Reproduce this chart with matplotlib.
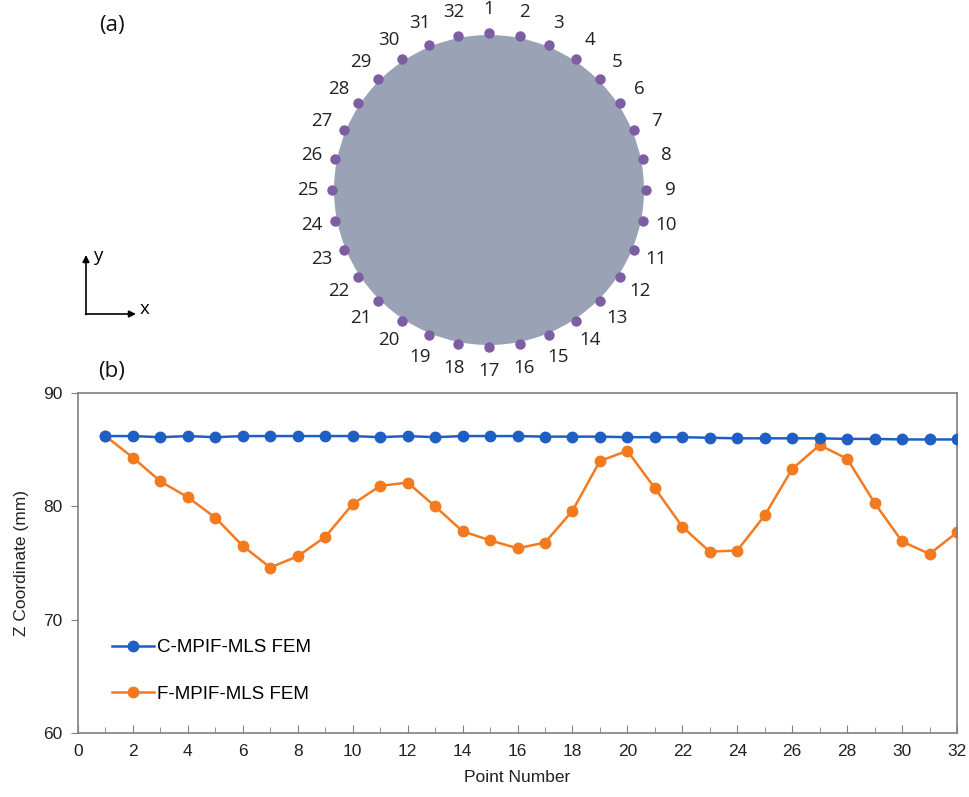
import numpy as np
import matplotlib.pyplot as plt
from matplotlib.patches import Circle

# measurement points around the section, numbered clockwise from the top
point_ids = list(range(1, 33))

# Z coordinate (mm) of each point for the two solvers
z_c_mpif = [86.2, 86.2, 86.1, 86.2, 86.1, 86.2, 86.2, 86.2, 86.2, 86.2, 86.1,
            86.2, 86.1, 86.2, 86.2, 86.2, 86.15, 86.15, 86.15, 86.1, 86.1,
            86.1, 86.05, 86.0, 86.0, 86.0, 86.0, 85.95, 85.95, 85.9, 85.9, 85.9]
z_f_mpif = [86.2, 84.3, 82.2, 80.8, 79.0, 76.5, 74.6, 75.6, 77.3, 80.2, 81.8,
            82.1, 80.0, 77.8, 77.0, 76.3, 76.8, 79.6, 84.0, 84.9, 81.6, 78.2,
            76.0, 76.1, 79.2, 83.3, 85.4, 84.2, 80.3, 76.9, 75.8, 77.7]

series_labels = ["C-MPIF-MLS FEM", "F-MPIF-MLS FEM"]
x_ticks = list(range(0, 33, 2))
y_ticks = [60, 70, 80, 90]

W, H = 969, 797
fig = plt.figure(figsize=(W / 100, H / 100), dpi=100)

# ---- (a) cross-section sketch, drawn in pixel units ----
top_h = 380
ax_a = fig.add_axes([0, 1 - top_h / H, 1, top_h / H])
ax_a.set_xlim(0, W)
ax_a.set_ylim(top_h, 0)
ax_a.axis("off")

cx, cy, r = 489, 190, 155
ax_a.add_patch(Circle((cx, cy), r, facecolor="#9aa3b5", edgecolor="none"))

ang = np.deg2rad(90 - (np.array(point_ids) - 1) * 360 / len(point_ids))
r_dot, r_lab = 157, 181
ax_a.plot(cx + r_dot * np.cos(ang), cy - r_dot * np.sin(ang), "o",
          color="#7d5ea3", markersize=7.5, markeredgewidth=0)
for pid, a in zip(point_ids, ang):
    ax_a.text(cx + r_lab * np.cos(a), cy - r_lab * np.sin(a), str(pid),
              ha="center", va="center", fontsize=13.5, family="Open Sans",
              color="#222222")

ax_a.text(112, 25, "(a)", ha="center", va="center", fontsize=16,
          family="Open Sans", color="#111111")

# coordinate triad
ox, oy = 86, 314
ax_a.annotate("", xy=(ox, 255), xytext=(ox, oy + 0.5),
              arrowprops=dict(arrowstyle="-|>", color="black", lw=1.2,
                              mutation_scale=10, shrinkA=0, shrinkB=0))
ax_a.annotate("", xy=(136, oy), xytext=(ox - 0.5, oy),
              arrowprops=dict(arrowstyle="-|>", color="black", lw=1.2,
                              mutation_scale=10, shrinkA=0, shrinkB=0))
ax_a.text(98, 256, "y", ha="center", va="center", fontsize=13.5, family="Open Sans")
ax_a.text(145, 309, "x", ha="center", va="center", fontsize=13.5, family="Open Sans")
ax_a.text(112, 371, "(b)", ha="center", va="center", fontsize=16,
          family="Open Sans", color="#111111")

# ---- (b) Z coordinate along the points ----
ax = fig.add_axes([78 / W, 64 / H, (957 - 78) / W, (733 - 393) / H])
ax.plot(point_ids, z_c_mpif, "-o", color="#1f5fc4", lw=1.8, markersize=7.5,
        label=series_labels[0], zorder=3)
ax.plot(point_ids, z_f_mpif, "-o", color="#f47a20", lw=1.8, markersize=7.5,
        label=series_labels[1], zorder=2)

ax.set_xlim(0, 32)
ax.set_ylim(60, 90)
ax.set_xticks(x_ticks)
ax.set_xticks(range(0, 33), minor=True)
ax.set_yticks(y_ticks)

font = "Liberation Sans"
for lab in ax.get_xticklabels() + ax.get_yticklabels():
    lab.set_family(font)
    lab.set_fontsize(12.5)
    lab.set_color("#222222")

ax.tick_params(axis="x", which="major", direction="in", length=6, color="#808080",
               pad=8)
ax.tick_params(axis="x", which="minor", direction="in", length=4, color="#808080")
ax.tick_params(axis="y", direction="out", length=5, color="#808080", pad=6)
for sp in ax.spines.values():
    sp.set_color("#808080")
    sp.set_linewidth(1.2)

ax.set_xlabel("Point Number", family=font, fontsize=12.5, color="#222222", labelpad=8)
ax.set_ylabel("Z Coordinate (mm)", family=font, fontsize=12.5, color="#222222",
              labelpad=10)

leg = ax.legend(loc="lower left", bbox_to_anchor=(0.02, 0.04), frameon=False,
                prop={"family": font, "size": 13.5}, labelspacing=1.55,
                handlelength=2.2, handletextpad=0.2)

fig.savefig("out.png", dpi=100)
